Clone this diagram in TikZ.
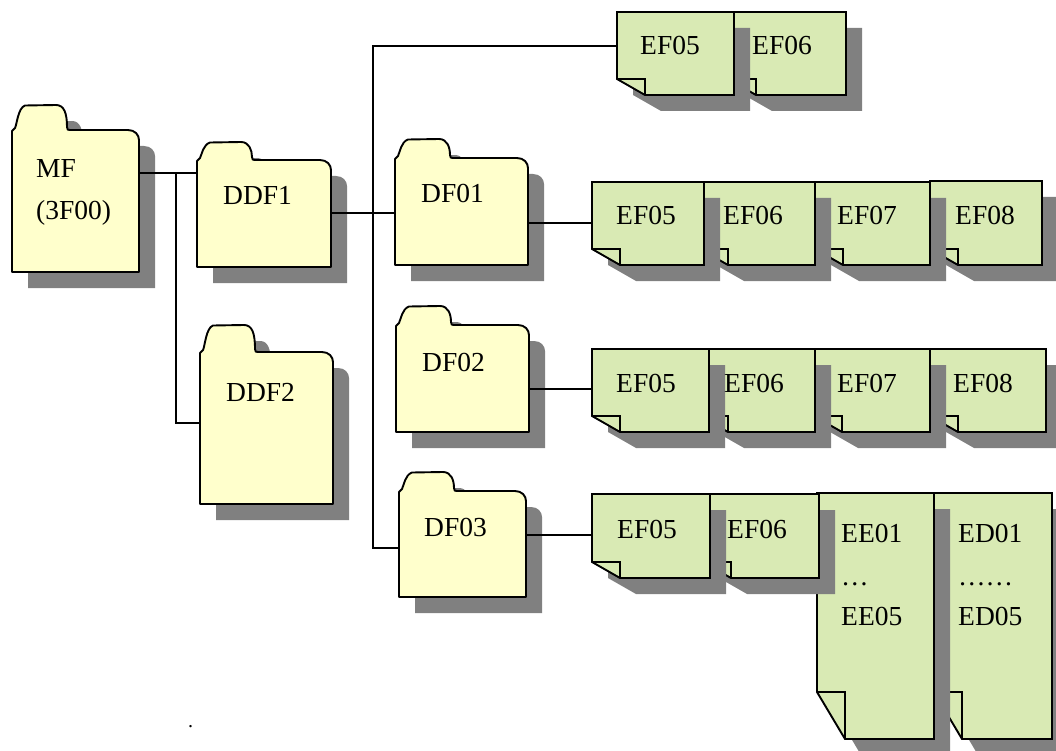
\documentclass[tikz,border=0pt]{standalone}
\usepackage{fontspec}
\setmainfont{Liberation Serif}
\usetikzlibrary{fit}
\definecolor{foldercol}{HTML}{FFFFCC}
\definecolor{notecol}{HTML}{D9EAB4}
\definecolor{shadecol}{HTML}{808080}
\tikzset{
  folderbody/.style={draw=black,line width=1.9pt,line join=round,fill=foldercol},
  notebody/.style={draw=black,line width=1.9pt,line join=miter,fill=notecol},
  shade/.style={fill=shadecol,draw=none,shift={(16,16)}},
  foldline/.style={draw=black,line width=1.7pt},
  hitbox/.style={inner sep=0pt,outer sep=0pt,draw=none},
  link/.style={draw=black,line width=1.5pt},
  lbl/.style={anchor=base west,inner sep=0pt,font=\fontsize{27.5}{32}\selectfont},
}
% left, right, body top, tab top, bottom
\newcommand{\folderpath}[5]{
  (#1,#3+1) -- (#1+3,#3-2) .. controls (#1+5,#3-6) and (#1+6,#4+3) .. (#1+13,#4+0.5) -- (#1+44,#4)
  .. controls (#1+52,#4) and (#1+55,#4+8) .. (#1+55,#3-3)
  .. controls (#1+55,#3) and (#1+56,#3) .. (#1+58,#3) -- (#2-11,#3)
  .. controls (#2-4,#3) and (#2,#3+5) .. (#2,#3+10) -- (#2,#5) -- (#1,#5) -- cycle
}
% name, left, right, body top, tab top, bottom
\newcommand{\folderbox}[6]{
  \path[shade] \folderpath{#2}{#3}{#4}{#5}{#6};
  \path[folderbody] \folderpath{#2}{#3}{#4}{#5}{#6};
  \node[hitbox,fit={(#2,#5)(#3,#6)}] (#1) {};
}
% left, right, top, bottom, height of the fold
\newcommand{\notepath}[5]{
  (#1,#4-#5) -- (#1,#3) -- (#2,#3) -- (#2,#4) -- (#1+28,#4) -- cycle
}
% name, left, right, top, bottom, height of the fold
\newcommand{\notebox}[6]{
  \path[shade] \notepath{#2}{#3}{#4}{#5}{#6};
  \path[notebody] \notepath{#2}{#3}{#4}{#5}{#6};
  \draw[foldline] (#2,#5-#6) -- (#2+28,#5-#6) -- (#2+28,#5);
  \node[hitbox,fit={(#2,#4)(#3,#5)}] (#1) {};
}
\begin{document}
\begin{tikzpicture}[x=1pt,y=-1pt]
\clip (0,0) rectangle (1056,751);

% folders
\folderbox{mf}{12}{139}{130}{105}{272}
\folderbox{ddf1}{197}{331}{160}{142}{267}
\folderbox{ddf2}{200}{333}{352}{325}{504}
\folderbox{df01}{395}{528}{158}{139}{265}
\folderbox{df02}{396}{529}{325}{306}{432}
\folderbox{df03}{399}{526}{491}{472}{597}

% files, from right to left
\notebox{eftb}{728}{846}{12}{95}{16}
\notebox{efta}{617}{734}{12}{95}{16}

\notebox{efah}{930}{1042}{181}{265}{16}
\notebox{efag}{815}{930}{182}{265}{16}
\notebox{efaf}{700}{815}{182}{265}{16}
\notebox{efae}{592}{704}{182}{265}{16}

\notebox{efbh}{930}{1046}{349}{432}{16}
\notebox{efbg}{814}{930}{349}{432}{16}
\notebox{efbf}{700}{815}{349}{432}{16}
\notebox{efbe}{592}{709}{349}{432}{16}

\notebox{edlong}{934}{1052}{493}{739}{47}
\notebox{eelong}{817}{934}{493}{739}{47}
\notebox{efcf}{703}{819}{494}{578}{16}
\notebox{efce}{592}{710}{494}{578}{16}

% connectors
\coordinate (busa) at (176,173);
\coordinate (busc) at (176,423);
\coordinate (bust) at (373,46);
\coordinate (busb) at (373,213);
\coordinate (busd) at (373,548);
\coordinate (rowa) at (560,223);
\coordinate (rowb) at (560,389);
\coordinate (rowc) at (560,535);
\draw[link] (mf.east |- busa) -- (ddf1.west |- busa);
\draw[link] (busa) -- (busc) -- (ddf2.west |- busc);
\draw[link] (ddf1.east |- busb) -- (df01.west |- busb);
\draw[link] (efta.west |- bust) -- (bust) -- (busd) -- (df03.west |- busd);
\draw[link] (df01.east |- rowa) -- (efae.west |- rowa);
\draw[link] (df02.east |- rowb) -- (efbe.west |- rowb);
\draw[link] (df03.east |- rowc) -- (efce.west |- rowc);

% labels
\node[lbl] (mftxt) at (36,178) {MF};
\node[lbl] (mfid) at (36,220) {(3F00)};
\node[lbl] (ddfatxt) at (223,205) {DDF1};
\node[lbl] (ddfbtxt) at (226,401) {DDF2};
\node[lbl] (dfatxt) at (421,203) {DF01};
\node[lbl] (dfbtxt) at (422,371) {DF02};
\node[lbl] (dfctxt) at (424,536) {DF03};

\node[lbl] (eftatxt) at (640,55) {EF05};
\node[lbl] (eftbtxt) at (752,55) {EF06};

\node[lbl] (efaetxt) at (616,225) {EF05};
\node[lbl] (efaftxt) at (723,225) {EF06};
\node[lbl] (efagtxt) at (837,225) {EF07};
\node[lbl] (efahtxt) at (955,225) {EF08};

\node[lbl] (efbetxt) at (616,392) {EF05};
\node[lbl] (efbftxt) at (724,392) {EF06};
\node[lbl] (efbgtxt) at (837,392) {EF07};
\node[lbl] (efbhtxt) at (953,392) {EF08};

\node[lbl] (efcetxt) at (617,538) {EF05};
\node[lbl] (efcftxt) at (727,538) {EF06};

\node[lbl] (eefirst) at (841,542) {EE01};
\node[lbl] (eedots) at (841,585) {…};
\node[lbl] (eelast) at (841,625) {EE05};
\node[lbl] (edfirst) at (958,542) {ED01};
\node[lbl] (eddots) at (958,585) {……};
\node[lbl] (edlast) at (958,625) {ED05};

\node[lbl,font=\fontsize{20}{24}\selectfont] (dot) at (188,727) {.};
\end{tikzpicture}
\end{document}
